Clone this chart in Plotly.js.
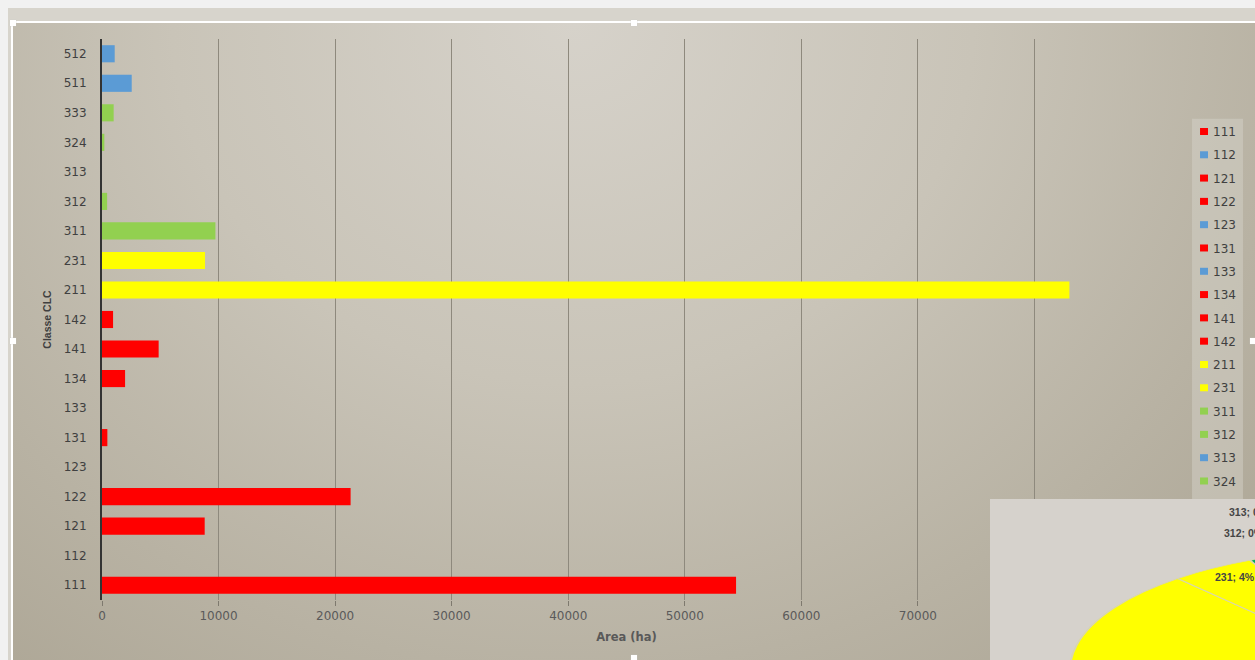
<!DOCTYPE html>
<html>
<head>
<meta charset="utf-8">
<script src="https://cdn.plot.ly/plotly-3.0.1.min.js"></script>
<style>
  html, body { margin: 0; padding: 0; width: 1255px; height: 660px; overflow: hidden; background: #f1f1f1; }
  #band { position: absolute; left: 8px; top: 8px; width: 1247px; height: 652px; background: #d7d4cc; }
  #frame { position: absolute; left: 11px; top: 21px; width: 1244px; height: 639px;
           border-top: 2px solid #ffffff; border-left: 2px solid #ffffff; box-sizing: border-box; }
  #area { position: absolute; left: 13px; top: 23px; width: 1242px; height: 637px;
          background: radial-gradient(ellipse 1000px 900px at 560px 0px,
                      #d6d2ca 0%, #c9c4b8 40%, #b8b2a3 72%, #aaa392 100%); }
  #chart { position: absolute; left: 0; top: 0; width: 1255px; height: 660px; }
  #piebox { position: absolute; left: 990px; top: 499px; width: 265px; height: 161px;
            background: #d6d2cc; overflow: hidden; }
  /* tilted pie: a flat pie squashed vertically */
  #pie { position: absolute; left: 80px; top: -140px; width: 622px; height: 622px;
         transform: scaleY(0.389); transform-origin: 50% 50%; }
  .pielabel { position: absolute; white-space: nowrap; font-family: 'Liberation Sans', sans-serif;
              font-size: 10.5px; font-weight: bold; line-height: 12px; color: #454545; }
  .handle { position: absolute; width: 6px; height: 6px; background: #ffffff;
            box-shadow: 0 0 1px #c8c8c8; }
</style>
</head>
<body>
<div id="band"></div>
<div id="area"></div>
<div id="frame"></div>
<div id="chart"></div>
<div id="piebox"><div id="pie"></div></div>
<div class="handle" style="left:10px;top:20px"></div>
<div class="handle" style="left:631px;top:20px"></div>
<div class="handle" style="left:10px;top:338px"></div>
<div class="handle" style="left:1250px;top:338px"></div>
<div class="handle" style="left:631px;top:655px"></div>
<script>
// CORINE Land Cover classes and their area in hectares
const categories = ['111','112','121','122','123','131','133','134','141','142',
                    '211','231','311','312','313','324','333','511','512'];
const areaHa = [54400, 0, 8810, 21330, 0, 460, 0, 1980, 4860, 950,
                83000, 8840, 9730, 440, 0, 200, 1000, 2550, 1090];
const barColors = ['#ff0000','#5b9bd5','#ff0000','#ff0000','#5b9bd5','#ff0000','#5b9bd5','#ff0000','#ff0000','#ff0000',
                   '#ffff00','#ffff00','#92d050','#92d050','#5b9bd5','#92d050','#92d050','#5b9bd5','#5b9bd5'];
const pieColors = ['#ff0000','#4f81bd','#ff0000','#ff0000','#4f81bd','#ff0000','#4f81bd','#ff0000','#ff0000','#ff0000',
                   '#ffff00','#ffff00','#00a862','#00a862','#4f81bd','#00a862','#00a862','#4f81bd','#4f81bd'];
const xTicks = [0, 10000, 20000, 30000, 40000, 50000, 60000, 70000, 80000, 90000];
// classes whose share is written next to the pie, with the label's left/top in the pie panel
const pieLabelled = ['313', '312', '231'];
const pieLabelPos = { '313': [239, 7], '312': [234, 28], '231': [225, 72] };

const barTraces = categories.map((c, i) => ({
  type: 'bar',
  orientation: 'h',
  name: c,
  legendgroup: c,
  y: [c],
  x: [areaHa[i]],
  marker: { color: barColors[i], line: { width: 0 } },
  hovertemplate: c + ': %{x} ha<extra></extra>'
}));

const barLayout = {
  width: 1255, height: 660,
  margin: { l: 101.6, r: 104, t: 39.25, b: 60.25, pad: 0 },
  paper_bgcolor: 'rgba(0,0,0,0)',
  plot_bgcolor: 'rgba(0,0,0,0)',
  barmode: 'overlay',
  bargap: 0.42,
  font: { family: 'DejaVu Sans', size: 12, color: '#404040' },
  xaxis: {
    range: [0, 90000],
    tickmode: 'array', tickvals: xTicks, tickformat: 'd',
    showgrid: true, gridcolor: '#8e897d', gridwidth: 1,
    zeroline: false, showline: false,
    ticks: 'outside', ticklen: 5, tickcolor: '#7e796e', tickwidth: 1,
    tickfont: { family: 'DejaVu Sans', size: 12, color: '#5a5a5a' },
    title: { text: 'Area (ha)', standoff: 10,
             font: { family: 'DejaVu Sans', size: 11.5, color: '#595959', weight: 'bold' } },
    fixedrange: true
  },
  yaxis: {
    type: 'category', categoryorder: 'array', categoryarray: categories,
    showgrid: false, zeroline: false,
    showline: true, linecolor: '#333333', linewidth: 2,
    ticks: '', ticklabelstandoff: 11,
    tickfont: { family: 'DejaVu Sans', size: 12, color: '#404040' },
    title: { text: 'Classe CLC', standoff: 10,
             font: { family: 'Liberation Sans', size: 10.5, color: '#404040', weight: 'bold' } },
    fixedrange: true
  },
  shapes: [{
    type: 'rect', xref: 'paper', yref: 'paper', layer: 'below',
    x0: 1.0391, x1: 1.0877, y0: 0.178, y1: 0.858,
    fillcolor: 'rgba(216,212,204,0.45)', line: { width: 0 }
  }],
  showlegend: true,
  legend: {
    x: 1.021, y: 0.861, xanchor: 'left', yanchor: 'top',
    bgcolor: 'rgba(0,0,0,0)', borderwidth: 0,
    traceorder: 'grouped', tracegroupgap: 4.3,
    font: { family: 'DejaVu Sans', size: 12, color: '#404040' }
  }
};

// smaller legend keys, set right next to their labels
function compactLegendKeys() {
  document.querySelectorAll('#chart .legend .legendpoints path').forEach(p => {
    p.setAttribute('d', 'M15,3.5H7V-3.5H15Z');
  });
}

Plotly.newPlot('chart', barTraces, barLayout, { displayModeBar: false }).then(gd => {
  compactLegendKeys();
  gd.on('plotly_afterplot', compactLegendKeys);
});

// Share of each class, drawn as a pie
const total = areaHa.reduce((a, b) => a + b, 0);
const pieTrace = {
  type: 'pie',
  labels: categories,
  values: areaHa,
  sort: false,
  direction: 'clockwise',
  rotation: 2.2,
  marker: { colors: pieColors, line: { color: '#d8d5b0', width: 2 } },
  textinfo: 'none',
  hoverinfo: 'label+percent',
  domain: { x: [0, 1], y: [0, 1] },
  showlegend: false
};

Plotly.newPlot('pie', [pieTrace], {
  width: 622, height: 622,
  margin: { l: 0, r: 0, t: 0, b: 0, pad: 0 },
  paper_bgcolor: 'rgba(0,0,0,0)',
  plot_bgcolor: 'rgba(0,0,0,0)',
  showlegend: false
}, { displayModeBar: false, staticPlot: true });

// "class; share" labels of the pie
const pieBox = document.getElementById('piebox');
pieLabelled.forEach(c => {
  const v = areaHa[categories.indexOf(c)];
  const el = document.createElement('div');
  el.className = 'pielabel';
  el.textContent = c + '; ' + Math.round(100 * v / total) + '%';
  el.style.left = pieLabelPos[c][0] + 'px';
  el.style.top = pieLabelPos[c][1] + 'px';
  pieBox.appendChild(el);
});
</script>
</body>
</html>
